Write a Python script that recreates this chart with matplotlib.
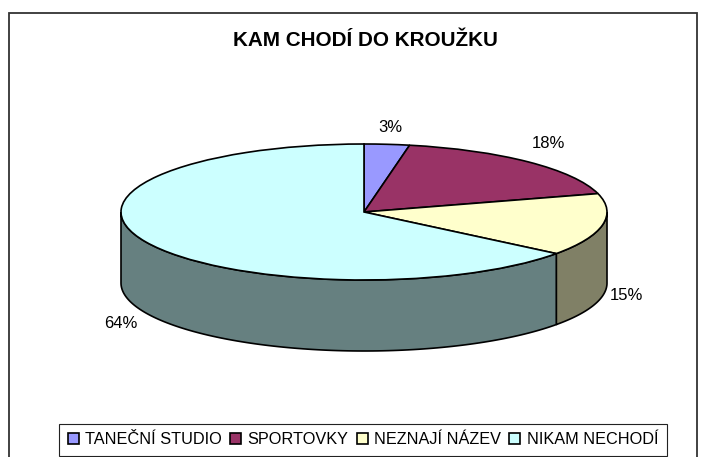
import numpy as np
import matplotlib
matplotlib.use("Agg")
import matplotlib.pyplot as plt
from matplotlib.patches import Rectangle

plt.rcParams['font.family'] = ['Liberation Sans', 'DejaVu Sans']

W, H = 709, 457
categories = ["TANEČNÍ STUDIO", "SPORTOVKY", "NEZNAJÍ NÁZEV", "NIKAM NECHODÍ"]
values = [3.0, 17.6, 14.8, 64.4]
pct_labels = ["3%", "18%", "15%", "64%"]
colors = ["#9999FF", "#993366", "#FFFFCC", "#CCFFFF"]
wall_colors = ["#666680", "#4D1A33", "#808066", "#668080"]
title = "KAM CHODÍ DO KROUŽKU"

# pie geometry in pixels
cx, cy = 364, 212
rx, ry = 243, 68
depth = 71
label_px = [(390, 127), (548, 144), (626, 296), (121, 323)]


def to_data(px, py):
    return (px - cx) / rx, (cy - py) / ry


fig = plt.figure(figsize=(W / 100, H / 100), dpi=100)
ax = fig.add_axes([0, 0, 1, 1])

# front wall first, the top of the pie goes over it
fracs = np.array(values) / sum(values)
ends = 90 - 360 * np.cumsum(fracs)
starts = np.r_[90, ends[:-1]]
d = depth / ry
for a0, a1, wc in zip(starts, ends, wall_colors):
    # visible part of the rim is the lower half, -180..0 degrees
    hi = min(a0, 0)
    lo = max(a1, -180)
    if hi <= lo:
        continue
    t = np.radians(np.linspace(hi, lo, 120))
    xs = np.cos(t)
    ys = np.sin(t)
    px_ = np.r_[xs, xs[::-1]]
    py_ = np.r_[ys, ys[::-1] - d]
    ax.fill(px_, py_, facecolor=wc, edgecolor="black", linewidth=1.2, zorder=1)

wedges, _ = ax.pie(values, colors=colors, startangle=90, counterclock=False,
                   wedgeprops={"edgecolor": "black", "linewidth": 1.2, "zorder": 2})
ax.set_aspect("auto")
ax.set_xlim(-cx / rx, (W - cx) / rx)
ax.set_ylim((cy - H) / ry, cy / ry)
ax.axis("off")

for lab, (px, py) in zip(pct_labels, label_px):
    x, y = to_data(px, py)
    ax.text(x, y, lab, fontsize=12, ha="center", va="center", color="black")

fig.text(365 / W, 1 - 41 / H, title, fontsize=14.9, fontweight="bold",
         ha="center", va="center")

# chart frame, runs off the bottom of the image
fig.add_artist(Rectangle((9 / W, -5 / H), 688 / W, (H - 13 + 5) / H, transform=fig.transFigure,
                         facecolor="none", edgecolor="#333333", linewidth=1.3))

leg = fig.legend(wedges, categories, loc="center", bbox_to_anchor=(363 / W, 1 - 440 / H),
                 ncol=4, fontsize=11.7, frameon=True, fancybox=False, edgecolor="#222222",
                 framealpha=1, handlelength=0.68, handleheight=0.68, handletextpad=0.4,
                 columnspacing=0.5, borderpad=0.5, borderaxespad=0)
leg.get_frame().set_linewidth(0.8)

fig.savefig("out.png", dpi=100)
